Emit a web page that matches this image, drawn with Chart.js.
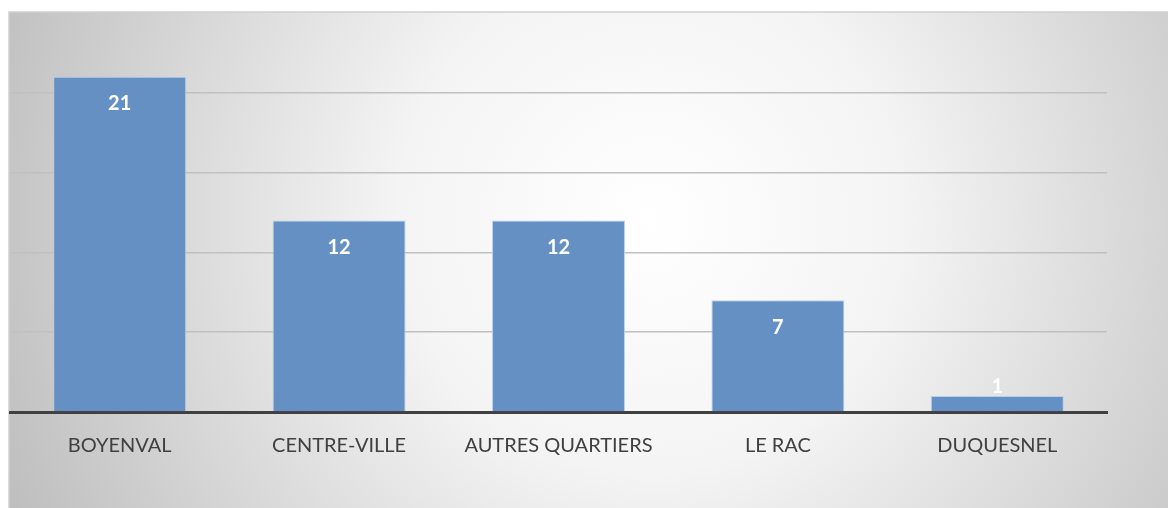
<!DOCTYPE html>
<html>
<head>
<meta charset="utf-8">
<script src="https://cdn.jsdelivr.net/npm/chart.js@4"></script>
<style>
  html, body { margin: 0; padding: 0; background: #fff; }
  #wrap { width: 1168px; height: 508px; position: relative; }
</style>
</head>
<body>
<div id="wrap"><canvas id="barChart"></canvas></div>
<script>
const categories = ['BOYENVAL', 'CENTRE-VILLE', 'AUTRES QUARTIERS', 'LE RAC', 'DUQUESNEL'];
const counts = [21, 12, 12, 7, 1];
const yMax = 25;
const yStep = 5;

// gray radial background + frame
const bgPlugin = {
    id: 'bg',
    beforeDraw(chart) {
        const c = chart.ctx;
        const x0 = 9, y0 = 12, w = chart.width - 9, h = chart.height - 12;
        const g = c.createRadialGradient(650, 220, 0, 650, 220, 720);
        g.addColorStop(0, '#ffffff');
        g.addColorStop(0.35, '#f4f4f4');
        g.addColorStop(1, '#bcbcbc');
        c.save();
        c.fillStyle = g;
        c.fillRect(x0, y0, w, h);
        c.strokeStyle = '#d0d0d0';
        c.lineWidth = 1.5;
        c.beginPath();
        c.moveTo(x0, chart.height);
        c.lineTo(x0, y0);
        c.lineTo(chart.width, y0);
        c.stroke();
        c.restore();
    }
};

// white value labels near the top of each bar
const labelPlugin = {
    id: 'vals',
    afterDatasetsDraw(chart) {
        const c = chart.ctx;
        const meta = chart.getDatasetMeta(0);
        c.save();
        c.fillStyle = '#ffffff';
        c.font = 'bold 20px Lato, "Open Sans", sans-serif';
        c.textAlign = 'center';
        c.textBaseline = 'middle';
        meta.data.forEach((bar, i) => {
            const h = bar.base - bar.y;
            const y = h > 40 ? bar.y + 27 : bar.y - 9;
            c.fillText(String(counts[i]), bar.x, y);
        });
        c.restore();
    }
};

new Chart(document.getElementById('barChart'), {
    type: 'bar',
    data: {
        labels: categories,
        datasets: [{
            data: counts,
            backgroundColor: 'rgba(100,144,196,1)',
            borderColor: 'rgba(180,205,235,0.9)',
            borderWidth: 1,
            barPercentage: 0.606,
            categoryPercentage: 1
        }]
    },
    options: {
        responsive: true,
        maintainAspectRatio: false,
        animation: false,
        layout: { padding: { left: 10, right: 61, top: 13, bottom: 36 } },
        plugins: { legend: { display: false }, tooltip: { enabled: false } },
        scales: {
            x: {
                grid: { display: false },
                border: { color: '#404040', width: 3 },
                ticks: {
                    color: '#404040',
                    font: { family: 'Lato, "Open Sans", sans-serif', size: 20 },
                    padding: 14
                }
            },
            y: {
                min: 0,
                max: yMax,
                ticks: { display: false, stepSize: yStep },
                border: { display: false },
                grid: {
                    color: (ctx) => (ctx.tick && ctx.tick.value === yMax) ? 'rgba(0,0,0,0)' : '#c0c0c0',
                    lineWidth: 1.5,
                    drawTicks: false
                }
            }
        }
    },
    plugins: [bgPlugin, labelPlugin]
});
</script>
</body>
</html>
